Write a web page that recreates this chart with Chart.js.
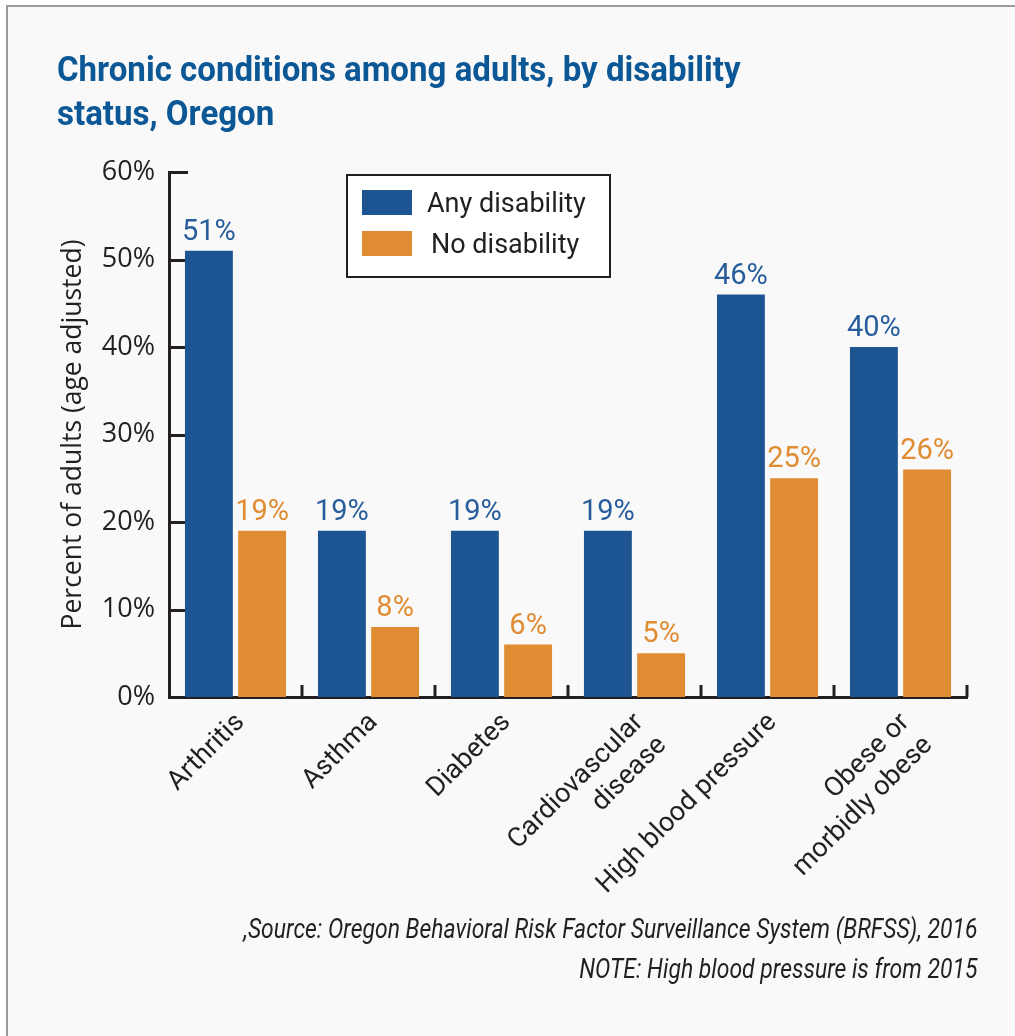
<!DOCTYPE html>
<html>
<head>
<meta charset="utf-8">
<script src="https://cdn.jsdelivr.net/npm/chart.js@4.4.1/dist/chart.umd.min.js"></script>
<style>
  html, body { margin: 0; padding: 0; background: #ffffff; }
  #page { position: relative; width: 1015px; height: 1036px; overflow: hidden; background: #ffffff; }
  #frame { position: absolute; left: 6px; top: 5px; right: -10px; bottom: -10px; background: #f9f9f9;
           border-left: 2px solid #9a9a9b; border-top: 2px solid #9a9a9b; }
  #chart { position: absolute; left: 0; top: 0; }
  #title { position: absolute; left: 57px; top: 48px; font-family: Roboto, sans-serif; font-weight: bold;
           font-size: 35px; line-height: 44px; color: #0c5796; white-space: nowrap;
           transform-origin: 0 0; transform: scaleX(0.944); }
  #notes { position: absolute; right: 38px; top: 909px; font-family: Roboto, sans-serif; font-style: italic;
           font-size: 27px; line-height: 40px; color: #231f20; text-align: right; white-space: nowrap;
           transform-origin: 100% 0; transform: scaleX(0.85); }
</style>
</head>
<body>
<div id="page">
  <div id="frame"></div>
  <canvas id="chart" width="1015" height="1036"></canvas>
  <div id="title">Chronic conditions among adults, by disability<br>status, Oregon</div>
  <div id="notes">,Source: Oregon Behavioral Risk Factor Surveillance System (BRFSS), 2016<br>NOTE: High blood pressure is from 2015</div>
</div>
<script>
const categories = ['Arthritis', 'Asthma', 'Diabetes', ['Cardiovascular', 'disease'], 'High blood pressure', ['Obese or', 'morbidly obese']];
const seriesNames = ['Any disability', 'No disability'];
const anyDisability = [51, 19, 19, 19, 46, 40];
const noDisability = [19, 8, 6, 5, 25, 26];
const yTicks = [0, 10, 20, 30, 40, 50, 60];

const BLUE = '#1c5591';
const ORANGE = '#e08c32';
const LABEL_COLORS = ['#285d9b', '#e08c32'];
const INK = '#231f20';

const axisTicksPlugin = {
  id: 'axisTicks',
  beforeDatasetsDraw(chart) {
    const {ctx, chartArea: a, scales: {x, y}} = chart;
    ctx.save();
    ctx.strokeStyle = INK;
    ctx.lineWidth = 3;
    yTicks.forEach(v => {
      const py = Math.round(y.getPixelForValue(v)) + 0.5;
      ctx.beginPath();
      ctx.moveTo(a.left, py);
      ctx.lineTo(a.left + 19, py);
      ctx.stroke();
    });
    const n = categories.length;
    const half = (x.getPixelForValue(1) - x.getPixelForValue(0)) / 2;
    for (let i = 0; i < n; i++) {
      const px = Math.round(x.getPixelForValue(i) + half);
      ctx.beginPath();
      ctx.moveTo(px, a.bottom - 12);
      ctx.lineTo(px, a.bottom);
      ctx.stroke();
    }
    ctx.restore();
  }
};

const dataLabelPlugin = {
  id: 'dataLabels',
  afterDatasetsDraw(chart) {
    const {ctx} = chart;
    ctx.save();
    ctx.font = '29px Roboto';
    ctx.textAlign = 'center';
    ctx.textBaseline = 'alphabetic';
    chart.data.datasets.forEach((ds, di) => {
      const meta = chart.getDatasetMeta(di);
      ctx.fillStyle = LABEL_COLORS[di];
      meta.data.forEach((bar, i) => {
        ctx.fillText(ds.data[i] + '%', bar.x, bar.y - 11);
      });
    });
    ctx.restore();
  }
};

const boxLegendPlugin = {
  id: 'boxLegend',
  afterDraw(chart) {
    const {ctx, chartArea: a} = chart;
    const left = a.left + 178, top = a.top + 3, w = 263, h = 102;
    ctx.save();
    ctx.fillStyle = '#ffffff';
    ctx.fillRect(left, top, w, h);
    ctx.strokeStyle = INK;
    ctx.lineWidth = 2;
    ctx.strokeRect(left, top, w, h);
    ctx.font = '27px Roboto';
    ctx.textBaseline = 'middle';
    ctx.textAlign = 'left';
    chart.data.datasets.forEach((ds, di) => {
      const sy = top + 15 + di * 41;
      ctx.fillStyle = ds.backgroundColor;
      ctx.fillRect(left + 15, sy, 50, 25);
      ctx.fillStyle = INK;
      ctx.fillText(ds.label, left + 80 + di * 4, sy + 15);
    });
    ctx.restore();
  }
};

new Chart(document.getElementById('chart'), {
  type: 'bar',
  data: {
    labels: categories,
    datasets: [
      { label: seriesNames[0], data: anyDisability, backgroundColor: BLUE, categoryPercentage: 0.8, barPercentage: 0.9 },
      { label: seriesNames[1], data: noDisability, backgroundColor: ORANGE, categoryPercentage: 0.8, barPercentage: 0.9 }
    ]
  },
  options: {
    responsive: false,
    devicePixelRatio: 1,
    animation: false,
    layout: { padding: { left: 48, top: 172, right: 48, bottom: 0 } },
    plugins: { legend: { display: false }, tooltip: { enabled: false }, title: { display: false } },
    scales: {
      x: {
        grid: { display: false, drawTicks: false },
        border: { display: true, color: INK, width: 3 },
        ticks: { autoSkip: false, minRotation: 45, maxRotation: 45, padding: 10, labelOffset: 5,
                 color: INK, font: { family: 'Roboto', size: 27 } },
        afterFit(s) { s.height = 339; }
      },
      y: {
        min: 0, max: 60,
        afterBuildTicks(s) { s.ticks = yTicks.map(v => ({ value: v })); },
        grid: { display: false, drawTicks: false },
        border: { display: true, color: INK, width: 3 },
        ticks: { padding: 14, color: INK, font: { family: 'Open Sans', size: 27 }, callback: v => v + '%' },
        title: { display: true, text: 'Percent of adults (age adjusted)', color: INK,
                 font: { family: 'Open Sans', size: 26.5 }, padding: { top: 10, bottom: 0 } },
        afterFit(s) { s.width = 121; }
      }
    }
  },
  plugins: [axisTicksPlugin, dataLabelPlugin, boxLegendPlugin]
});
</script>
</body>
</html>
